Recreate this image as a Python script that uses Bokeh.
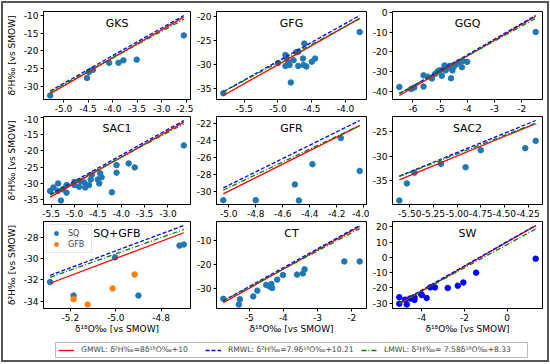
from bokeh.plotting import figure
from bokeh.layouts import column, row
from bokeh.models import Range1d, FixedTicker, Label, Legend, LegendItem
from bokeh.embed import file_html
from bokeh.resources import INLINE

FONT = "DejaVu Sans"

# meteoric water lines (slope, intercept)
gmwl = (8.0, 10.0)
rmwl = (7.9, 10.21)
lmwl = (7.58, 8.33)
wl_labels = ["GMWL: δ²H‰=8δ¹⁸O‰+10", "RMWL: δ²H‰=7.9δ¹⁸O‰+10.21", "LMWL: δ²H‰= 7.58δ¹⁸O‰+8.33"]

x_label = "δ¹⁸O‰ [vs SMOW]"
y_label = "δ²H‰ [vs SMOW]"

# ---- data (δ18O, δ2H) ----
gks_o18 = [-5.27, -4.52, -4.48, -4.40, -4.07, -3.88, -3.78, -3.51, -2.55]
gks_h2 = [-32.7, -27.7, -26.0, -25.4, -23.4, -23.4, -22.7, -22.5, -15.6]

gfg_o18 = [-5.81, -5.00, -4.89, -4.88, -4.89, -4.85, -4.83, -4.81, -4.77, -4.73,
           -4.70, -4.70, -4.63, -4.61, -4.62, -4.58, -4.50, -4.45, -3.79]
gfg_h2 = [-36.0, -29.7, -28.0, -28.5, -30.3, -29.4, -30.1, -33.75, -29.1, -27.4,
          -27.3, -30.3, -28.75, -25.6, -30.1, -30.4, -29.4, -28.75, -23.2]

ggq_o18 = [-6.5, -6.06, -5.95, -5.61, -5.61, -5.46, -5.3, -5.18, -5.08, -5.0, -4.94, -4.84,
           -4.8, -4.72, -4.65, -4.6, -4.55, -4.51, -4.43, -4.33, -4.2, -4.18, -4.01, -1.49]
ggq_h2 = [-37.7, -38.7, -38.0, -31.8, -37.5, -32.5, -33.4, -31.0, -29.7, -29.2, -32.0, -26.8,
          -29.3, -28.0, -27.0, -33.3, -29.3, -27.6, -26.5, -25.6, -27.7, -24.6, -25.0, -9.9]

sac1_o18 = [-5.52, -5.45, -5.35, -5.36, -5.29, -5.25, -5.17, -5.17, -5.0, -5.0, -4.9, -4.87,
            -4.79, -4.77, -4.69, -4.65, -4.63, -4.5, -4.47, -4.45, -4.42, -4.2, -4.1, -4.1,
            -3.84, -3.71, -2.66]
sac1_h2 = [-32.3, -31.2, -30.0, -32.3, -35.2, -31.8, -30.5, -32.8, -29.5, -30.5, -31.0, -29.3,
           -29.7, -31.2, -30.5, -28.8, -27.4, -28.8, -30.0, -26.9, -28.1, -32.7, -24.4, -26.7,
           -23.9, -25.1, -18.4]

gfr_o18 = [-5.04, -4.80, -4.51, -4.48, -4.38, -4.17, -4.03]
gfr_h2 = [-31.06, -31.06, -29.2, -31.1, -26.8, -23.7, -27.6]

sac2_o18 = [-5.61, -5.53, -5.45, -5.17, -4.91, -4.75, -4.28, -4.17]
sac2_h2 = [-39.1, -35.6, -33.4, -31.6, -32.3, -28.8, -28.4, -26.9]

sq_o18 = [-5.289, -5.186, -5.003, -4.90, -4.719, -4.70]
sq_h2 = [-32.2, -33.46, -29.9, -33.46, -28.8, -28.7]
gfb_o18 = [-5.186, -5.124, -5.014, -4.917]
gfb_h2 = [-33.8, -34.3, -32.8, -31.5]

ct_o18 = [-5.755, -5.27, -5.30, -4.88, -4.76, -4.50, -4.40, -4.35, -4.33, -4.18, -4.01,
          -3.60, -3.43, -3.38, -2.22, -1.77]
ct_h2 = [-34.4, -34.6, -36.8, -33.4, -31.0, -28.6, -29.3, -28.2, -29.9, -26.4, -24.5,
         -24.3, -23.8, -22.1, -18.8, -18.8]

sw_o18 = [-5.05, -5.05, -4.78, -4.70, -4.55, -4.34, -4.34, -4.03, -4.0, -3.77, -3.6,
          -3.38, -2.78, -2.31, -2.05, -1.45, 1.34]
sw_h2 = [-26.0, -30.3, -27.6, -30.8, -26.9, -27.8, -26.1, -23.9, -24.6, -26.5, -19.6,
         -19.6, -20.0, -18.5, -16.4, -10.0, -0.9]

# ---- tick labels ----
gks_xt = ["-5.0", "-4.5", "-4.0", "-3.5", "-3.0", "-2.5"]
gks_yt = ["-10", "-15", "-20", "-25", "-30"]
gfg_xt = ["-5.5", "-5.0", "-4.5", "-4.0"]
gfg_yt = ["-20", "-25", "-30", "-35"]
ggq_xt = ["-6", "-5", "-4", "-3", "-2"]
ggq_yt = ["0", "-10", "-20", "-30", "-40"]
sac1_xt = ["-5.5", "-5.0", "-4.5", "-4.0", "-3.5", "-3.0"]
sac1_yt = ["-10", "-15", "-20", "-25", "-30", "-35"]
gfr_xt = ["-5.0", "-4.8", "-4.6", "-4.4", "-4.2", "-4.0"]
gfr_yt = ["-22", "-24", "-26", "-28", "-30"]
sac2_xt = ["-5.50", "-5.25", "-5.00", "-4.75", "-4.50", "-4.25"]
sac2_yt = ["-25", "-30", "-35"]
sqg_xt = ["-5.2", "-5.0", "-4.8"]
sqg_yt = ["-28", "-30", "-32", "-34"]
ct_xt = ["-5", "-4", "-3", "-2"]
ct_yt = ["-10", "-20", "-30"]
sw_xt = ["-4", "-2", "0"]
sw_yt = ["20", "10", "0", "-10", "-20", "-30"]

TAB_BLUE = "#1f77b4"
TAB_ORANGE = "#ff7f0e"
WL_COLORS = ["red", "blue", "green"]
WL_DASH = ["solid", "4 2", "5 2 1 2"]

COL_W = [190, 176, 178]
COL_B = [(36, 3), (23, 3), (22, 5)]
ROW_H = [112, 105, 116]
ROW_B = [(8, 16), (1, 16), (1, 27)]


def style_axis(ax, labels):
    vals = [float(s) for s in labels]
    ax.ticker = FixedTicker(ticks=vals)
    ax.major_label_overrides = {v: s for v, s in zip(vals, labels)}
    ax.major_label_text_font = FONT
    ax.major_label_text_font_size = "9px"
    ax.major_label_text_color = "black"
    ax.major_tick_out = 3
    ax.major_tick_in = 0
    ax.minor_tick_out = 0
    ax.minor_tick_in = 0
    ax.major_label_standoff = 2
    ax.axis_line_color = "black"
    ax.major_tick_line_color = "black"
    ax.axis_label_text_font = FONT
    ax.axis_label_text_font_size = "9px"
    ax.axis_label_text_font_style = "normal"
    ax.axis_label_text_color = "black"


def make_panel(series, title, xt, yt, r, c, legend=False):
    allx = [v for s in series for v in s[0]]
    ally = [v for s in series for v in s[1]]
    x0, x1 = min(allx), max(allx)
    lys = []
    for a, b in (gmwl, rmwl, lmwl):
        lys += [a * x0 + b, a * x1 + b]
    y0, y1 = min(ally + lys), max(ally + lys)
    dx = (x1 - x0) * 0.05
    dy = (y1 - y0) * 0.05
    bl, br = COL_B[c]
    bt, bb = ROW_B[r]
    p = figure(width=COL_W[c], height=ROW_H[r],
               x_range=Range1d(x0 - dx, x1 + dx), y_range=Range1d(y0 - dy, y1 + dy),
               output_backend="svg", toolbar_location=None,
               min_border_left=bl, min_border_right=br,
               min_border_top=bt, min_border_bottom=bb)
    p.grid.visible = False
    p.outline_line_color = "black"
    p.outline_line_width = 1
    style_axis(p.xaxis[0], xt)
    style_axis(p.yaxis[0], yt)
    if r == 2:
        p.xaxis[0].axis_label = x_label
        p.xaxis[0].axis_label_standoff = 0
    if c == 0:
        p.yaxis[0].axis_label = y_label
        p.yaxis[0].axis_label_standoff = 4
    for s in series:
        kw = {}
        if legend:
            kw["legend_label"] = s[3]
        p.scatter(s[0], s[1], size=5.5, fill_color=s[2], line_color=s[2], **kw)
    for (a, b), col, d in zip((gmwl, rmwl, lmwl), WL_COLORS, WL_DASH):
        p.line([x0, x1], [a * x0 + b, a * x1 + b], line_color=col, line_dash=d, line_width=1.3)
    p.add_layout(Label(x=(x0 + x1) / 2, y=y1 + dy - 0.135 * (y1 - y0 + 2 * dy), text=title,
                       text_align="center", text_baseline="middle",
                       text_font=FONT, text_font_size="11px", text_color="black"))
    if legend:
        lg = p.legend[0]
        lg.location = "top_left"
        lg.margin = 3
        lg.padding = 3
        lg.spacing = 1
        lg.label_text_font = FONT
        lg.label_text_font_size = "8px"
        lg.label_height = 10
        lg.glyph_height = 10
        lg.glyph_width = 12
        lg.label_standoff = 6
        lg.border_line_color = "#cccccc"
        lg.background_fill_alpha = 0.8
    return p


panels = [
    ([(gks_o18, gks_h2, TAB_BLUE)], "GKS", gks_xt, gks_yt),
    ([(gfg_o18, gfg_h2, TAB_BLUE)], "GFG", gfg_xt, gfg_yt),
    ([(ggq_o18, ggq_h2, TAB_BLUE)], "GGQ", ggq_xt, ggq_yt),
    ([(sac1_o18, sac1_h2, TAB_BLUE)], "SAC1", sac1_xt, sac1_yt),
    ([(gfr_o18, gfr_h2, TAB_BLUE)], "GFR", gfr_xt, gfr_yt),
    ([(sac2_o18, sac2_h2, TAB_BLUE)], "SAC2", sac2_xt, sac2_yt),
    ([(sq_o18, sq_h2, TAB_BLUE, "SQ"), (gfb_o18, gfb_h2, TAB_ORANGE, "GFB")], "SQ+GFB", sqg_xt, sqg_yt),
    ([(ct_o18, ct_h2, TAB_BLUE)], "CT", ct_xt, ct_yt),
    ([(sw_o18, sw_h2, "blue")], "SW", sw_xt, sw_yt),
]

figs = []
for i, (series, title, xt, yt) in enumerate(panels):
    r, c = divmod(i, 3)
    figs.append(make_panel(series, title, xt, yt, r, c, legend=(title == "SQ+GFB")))

# bottom legend: the frame of this small figure is the legend box
lf = figure(width=544, height=24, x_range=Range1d(0, 1), y_range=Range1d(0, 1),
            output_backend="svg", toolbar_location=None,
            x_axis_location=None, y_axis_location=None,
            min_border_left=52, min_border_right=20, min_border_top=6, min_border_bottom=3)
lf.grid.visible = False
lf.outline_line_color = "#bbbbbb"
item_offsets = [3, 150, 306]
for lab, col, d, off in zip(wl_labels, WL_COLORS, WL_DASH, item_offsets):
    rr = lf.line([-2, -1], [-2, -1], line_color=col, line_dash=d, line_width=1.3)
    lg = Legend(items=[LegendItem(label=lab, renderers=[rr])], orientation="horizontal",
                location="center_left", margin=off, padding=0, spacing=0,
                label_text_font=FONT, label_text_font_size="7.6px",
                glyph_width=16, glyph_height=10, label_height=10, label_standoff=7,
                border_line_color=None, background_fill_alpha=0)
    lf.add_layout(lg, "center")

root = column(row(*figs[0:3]), row(*figs[3:6]), row(*figs[6:9]), lf,
              styles={"border": "2px solid #555", "position": "relative",
                      "left": "1px", "top": "1px"})

open("out.html", "w").write(file_html(root, INLINE))
